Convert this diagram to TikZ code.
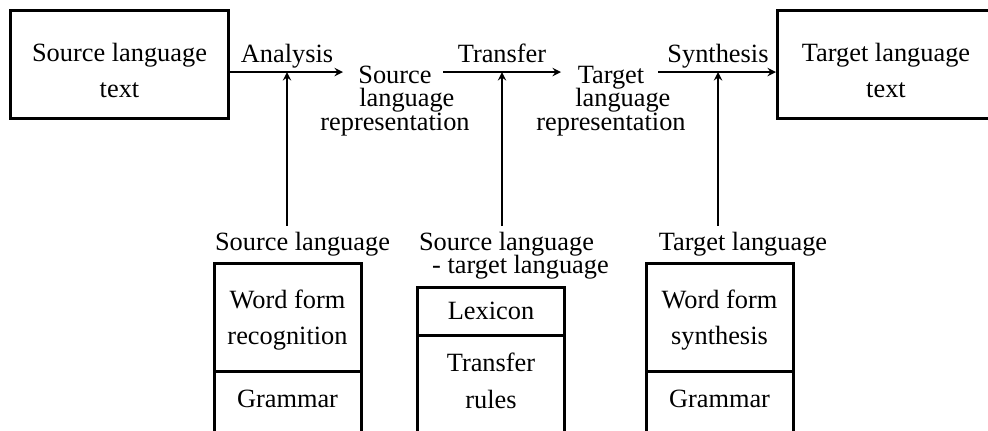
\documentclass[tikz,border=0pt]{standalone}
\usepackage{fontspec}
\setmainfont{Liberation Serif}
\usepackage{tikz}
\tikzset{>=stealth}
\tikzset{
  txt/.style={inner sep=0pt, outer sep=1.2mm, font={\fontsize{15}{13.4}\selectfont\lineskiplimit=-20pt}},
  bigbox/.style={draw, line width=0.6mm, minimum width=43.4mm, minimum height=21.6mm, text height=13.2mm, text depth=0pt, align=center, font={\fontsize{15}{20.4}\selectfont}},
  cell/.style={draw, line width=0.6mm, outer sep=0pt, minimum width=29.4mm, align=center, font={\fontsize{15}{20.4}\selectfont}},
  flow/.style={line width=0.4mm, ->},
  side/.style={line width=0.6mm}
}

\begin{document}
\begin{tikzpicture}[x=0.2mm,y=-0.2mm]
    \useasboundingbox (0,0) rectangle (988,430);
    % texts and representations
    \node[bigbox] (srctext) at (119.5,64) {Source language\\text};
    \node[bigbox] (tgttext) at (886,64) {Target language\\text};
    \node[txt,align=center] (srcrep) at (395,101) {Source\\\hspace*{0.9em}language\\representation};
    \node[txt,align=center] (tgtrep) at (611,101) {Target\\\hspace*{0.9em}language\\representation};
    \node[txt,anchor=base] (analysis) at (287,62) {Analysis};
    \node[txt,anchor=base] (transfer) at (502,62) {Transfer};
    \node[txt,anchor=base] (synthesis) at (718,62) {Synthesis};
    \coordinate (srcin) at (343,72);
    \coordinate (srcout) at (443,72);
    \coordinate (tgtin) at (561,72);
    \coordinate (tgtout) at (658,72);
    \draw[flow] (srctext.east |- srcin) -- (srcin);
    \draw[flow] (srcout) -- (tgtin);
    \draw[flow] (tgtout) -- (tgttext.west |- tgtout);
    % knowledge sources
    \node[txt,anchor=base] (srclang) at (302.5,250) {Source language};
    \node[txt,anchor=north west,align=left] (bilang) at (413,226) {Source language\\\hspace*{0.5em}- target language};
    \node[txt,anchor=base] (tgtlang) at (743,250) {Target language};
    \draw[flow] (srclang.north -| analysis) -- (analysis |- srcin);
    \draw[flow] (bilang.north -| transfer) -- (transfer |- srcout);
    \draw[flow] (tgtlang.north -| synthesis) -- (synthesis |- tgtout);
    \node[cell,minimum height=21.6mm,text depth=0pt] (wfrec) at (287.5,317) {Word form\\recognition};
    \node[cell,minimum height=9.6mm] (lexicon) at (491,311) {Lexicon};
    \node[cell,minimum height=21.6mm,text depth=0pt] (wfsyn) at (719.5,317) {Word form\\synthesis};
    \draw[side] (wfrec.south west) -- ++(0,80);
    \draw[side] (wfrec.south east) -- ++(0,80);
    \draw[side] (lexicon.south west) -- ++(0,120);
    \draw[side] (lexicon.south east) -- ++(0,120);
    \draw[side] (wfsyn.south west) -- ++(0,80);
    \draw[side] (wfsyn.south east) -- ++(0,80);
    \node[txt,anchor=base] (srcgram) at (287.5,407) {Grammar};
    \node[txt,anchor=north,align=center,font={\fontsize{15}{21}\selectfont}] (rules) at (491,347) {Transfer\\rules};
    \node[txt,anchor=base] (tgtgram) at (719.5,407) {Grammar};
\end{tikzpicture}
\end{document}
